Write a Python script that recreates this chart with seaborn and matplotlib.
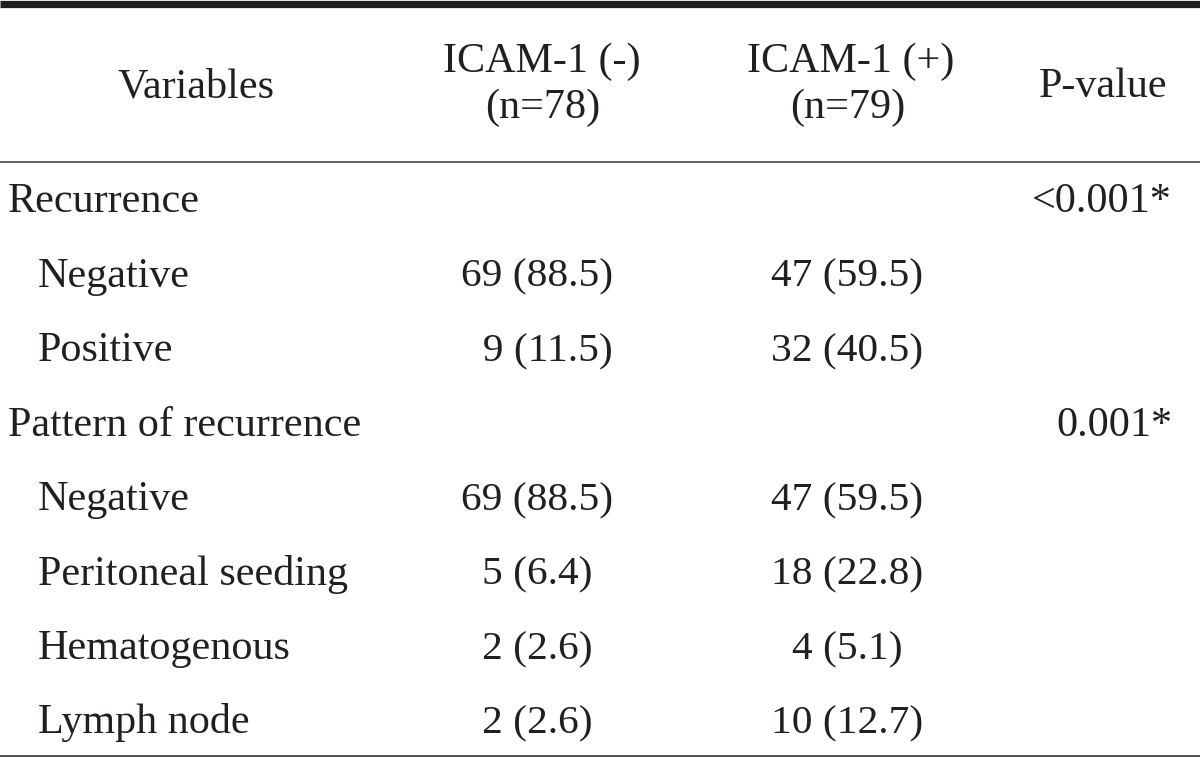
import matplotlib.pyplot as plt
import seaborn as sns

# table contents
header_cols = ["Variables", "ICAM-1 (-)", "(n=78)", "ICAM-1 (+)", "(n=79)", "P-value"]
row_labels = ["Recurrence", "Negative", "Positive", "Pattern of recurrence",
              "Negative", "Peritoneal seeding", "Hematogenous", "Lymph node"]
is_group = [True, False, False, True, False, False, False, False]
icam_neg = ["", "69 (88.5)", "  9 (11.5)", "", "69 (88.5)", "5 (6.4)", "2 (2.6)", "2 (2.6)"]
icam_pos = ["", "47 (59.5)", "32 (40.5)", "", "47 (59.5)", "18 (22.8)", "4 (5.1)", "10 (12.7)"]
p_values = ["<0.001*", "", "", "0.001*", "", "", "", ""]

sns.set_theme(style="white")
plt.rcParams["font.family"] = ["Liberation Serif", "DejaVu Serif"]

ink = "#231f20"
fs_txt = 30.3
fs_num = 29.8

fig = plt.figure(figsize=(12, 7.57), dpi=100)
ax = fig.add_axes([0, 0, 1, 1])
ax.set_xlim(0, 1200)
ax.set_ylim(757, 0)
ax.axis("off")

# rules
ax.hlines(3.5, 0, 1200, color=ink, lw=5.2)
ax.hlines(161.5, 0, 1200, color="#333333", lw=1.1)
ax.hlines(755.5, 0, 1200, color="#444444", lw=1.3)

# header
kw = dict(va="baseline", fontsize=fs_txt, color=ink)
nkw = dict(va="baseline", fontsize=fs_num, color=ink)
ax.text(196, 97, header_cols[0], ha="center", **kw)
ax.text(542, 72, header_cols[1], ha="center", **kw)
ax.text(543, 118, header_cols[2], ha="center", **kw)
ax.text(851, 72, header_cols[3], ha="center", **kw)
ax.text(848, 118, header_cols[4], ha="center", **kw)
ax.text(1103, 97, header_cols[5], ha="center", **kw)

# body
y0, dy = 212, 74.5
for i, lab in enumerate(row_labels):
    y = y0 + i * dy
    x = 8 if is_group[i] else 38
    ax.text(x, y, lab, ha="left", **kw)
    if icam_neg[i]:
        ax.text(537, y, icam_neg[i], ha="center", **nkw)
    if icam_pos[i]:
        ax.text(847, y, icam_pos[i], ha="center", **nkw)
    if p_values[i]:
        ax.text(1172, y, p_values[i], ha="right", **kw)

fig.savefig("out.png", dpi=100)
